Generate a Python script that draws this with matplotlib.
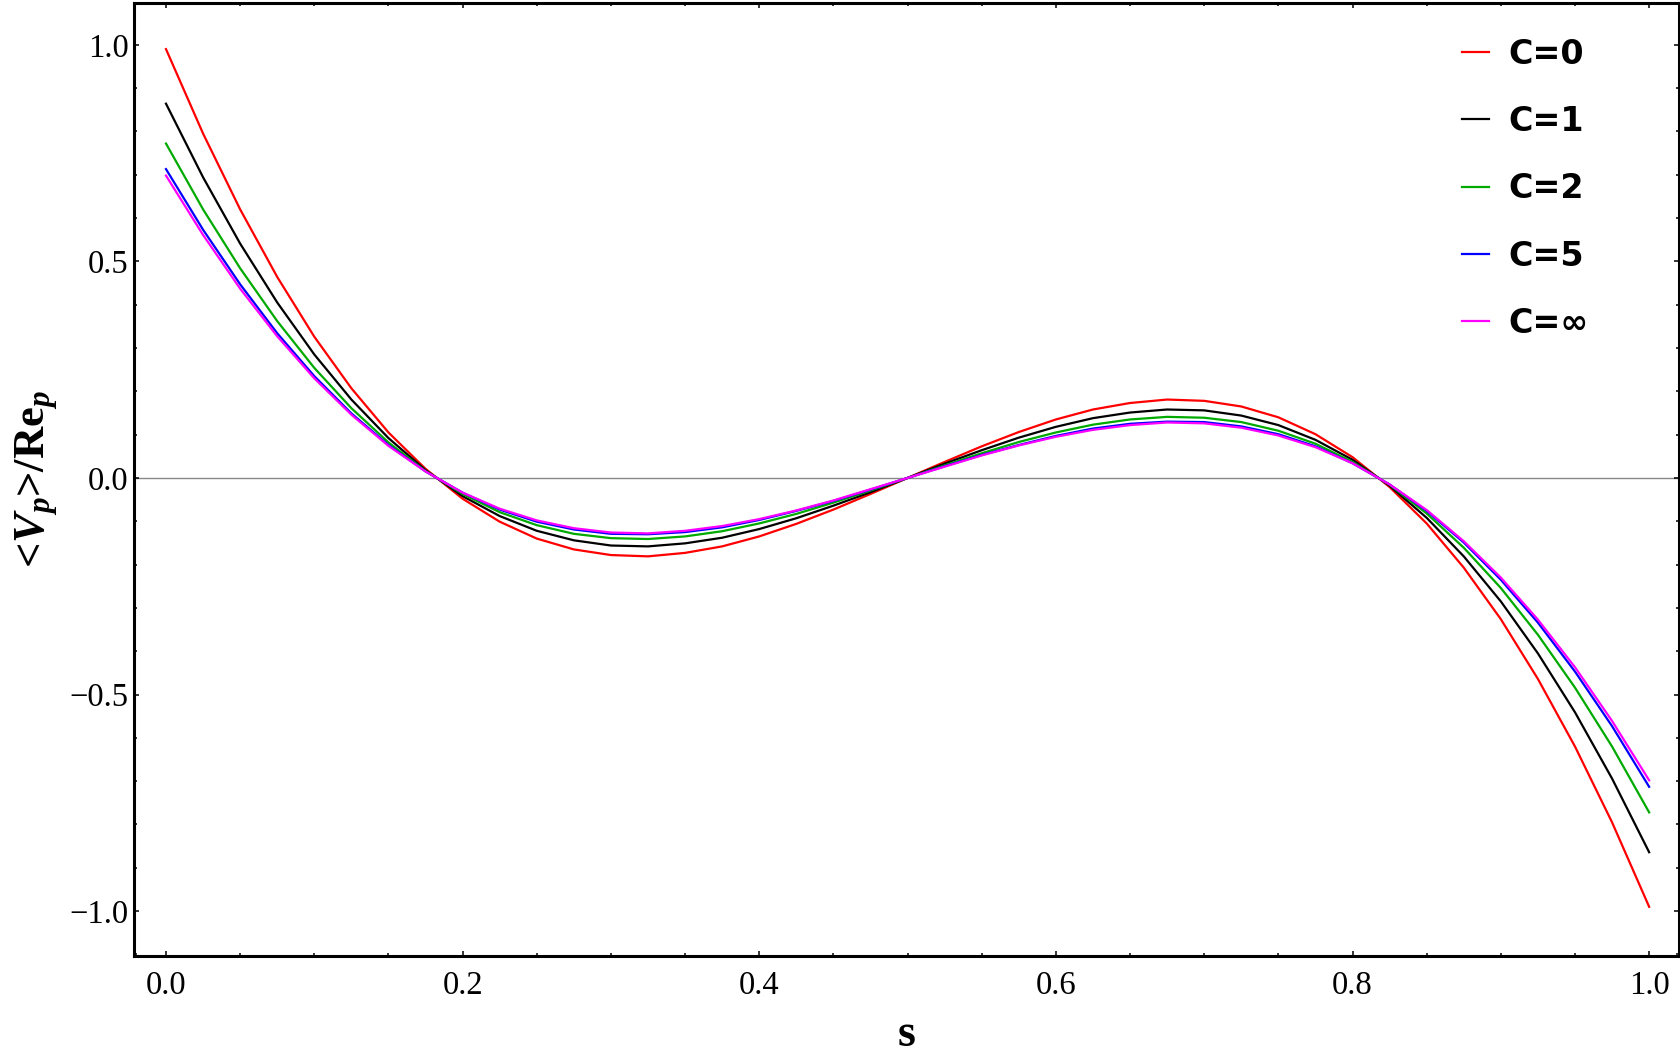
import matplotlib
matplotlib.use("Agg")
import matplotlib.pyplot as plt
from matplotlib.ticker import MultipleLocator, FixedLocator, FixedFormatter

# values, s = 0 .. 1 in steps of 0.025
s = [0.000, 0.025, 0.050, 0.075, 0.100, 0.125, 0.150, 0.175, 0.200, 0.225,
     0.250, 0.275, 0.300, 0.325, 0.350, 0.375, 0.400, 0.425, 0.450, 0.475,
     0.500, 0.525, 0.550, 0.575, 0.600, 0.625, 0.650, 0.675, 0.700, 0.725,
     0.750, 0.775, 0.800, 0.825, 0.850, 0.875, 0.900, 0.925, 0.950, 0.975,
     1.000]

v_c0 = [0.990, 0.795, 0.620, 0.464, 0.326, 0.207, 0.105, 0.021, -0.048, -0.101,
        -0.140, -0.165, -0.178, -0.181, -0.173, -0.158, -0.135, -0.106, -0.073, -0.037,
        0.000, 0.037, 0.073, 0.106, 0.135, 0.158, 0.173, 0.181, 0.178, 0.165,
        0.140, 0.101, 0.048, -0.021, -0.105, -0.207, -0.326, -0.464, -0.620, -0.795,
        -0.990]

v_c1 = [0.864, 0.694, 0.541, 0.405, 0.285, 0.181, 0.092, 0.018, -0.042, -0.088,
        -0.122, -0.144, -0.156, -0.158, -0.151, -0.138, -0.118, -0.093, -0.064, -0.033,
        0.000, 0.033, 0.064, 0.093, 0.118, 0.138, 0.151, 0.158, 0.156, 0.144,
        0.122, 0.088, 0.042, -0.018, -0.092, -0.181, -0.285, -0.405, -0.541, -0.694,
        -0.864]

v_c2 = [0.772, 0.620, 0.484, 0.362, 0.254, 0.161, 0.082, 0.016, -0.037, -0.079,
        -0.109, -0.129, -0.139, -0.141, -0.135, -0.123, -0.105, -0.083, -0.057, -0.029,
        0.000, 0.029, 0.057, 0.083, 0.105, 0.123, 0.135, 0.141, 0.139, 0.129,
        0.109, 0.079, 0.037, -0.016, -0.082, -0.161, -0.254, -0.362, -0.484, -0.620,
        -0.772]

v_c5 = [0.713, 0.573, 0.447, 0.334, 0.235, 0.149, 0.076, 0.015, -0.034, -0.073,
        -0.101, -0.119, -0.129, -0.130, -0.125, -0.114, -0.097, -0.076, -0.053, -0.027,
        0.000, 0.027, 0.053, 0.076, 0.097, 0.114, 0.125, 0.130, 0.129, 0.119,
        0.101, 0.073, 0.034, -0.015, -0.076, -0.149, -0.235, -0.334, -0.447, -0.573,
        -0.713]

v_cinf = [0.698, 0.561, 0.437, 0.327, 0.230, 0.146, 0.074, 0.015, -0.034, -0.071,
          -0.098, -0.116, -0.126, -0.128, -0.122, -0.111, -0.095, -0.075, -0.052, -0.026,
          0.000, 0.026, 0.052, 0.075, 0.095, 0.111, 0.122, 0.128, 0.126, 0.116,
          0.098, 0.071, 0.034, -0.015, -0.074, -0.146, -0.230, -0.327, -0.437, -0.561,
          -0.698]

labels = ["C=0", "C=1", "C=2", "C=5", "C=\u221e"]
colors = ["#ff0000", "#000000", "#00aa00", "#0000ff", "#ff00ff"]

x_ticks = [0.0, 0.2, 0.4, 0.6, 0.8, 1.0]
x_tick_labels = ["0.0", "0.2", "0.4", "0.6", "0.8", "1.0"]
y_ticks = [-1.0, -0.5, 0.0, 0.5, 1.0]
y_tick_labels = ["\u22121.0", "\u22120.5", "0.0", "0.5", "1.0"]

plt.rcParams["mathtext.fontset"] = "custom"
plt.rcParams["mathtext.rm"] = "Liberation Serif:bold"
plt.rcParams["mathtext.it"] = "Liberation Serif:italic:bold"
plt.rcParams["mathtext.bf"] = "Liberation Serif:bold"

fig = plt.figure(figsize=(16.8, 10.57), dpi=100)
ax = fig.add_axes([0.08, 0.0958, 0.9192, 0.9016])

ax.axhline(0, color="#888888", lw=1.0, zorder=1)

series = [v_c0, v_c1, v_c2, v_c5, v_cinf]
for vals, lab, col in zip(series, labels, colors):
    ax.plot(s, vals, color=col, lw=1.6, label=lab, zorder=2)

ax.set_xlim(-0.0213, 1.0199)
ax.set_ylim(-1.103, 1.097)

ax.xaxis.set_major_locator(FixedLocator(x_ticks))
ax.xaxis.set_major_formatter(FixedFormatter(x_tick_labels))
ax.xaxis.set_minor_locator(MultipleLocator(0.05))
ax.yaxis.set_major_locator(FixedLocator(y_ticks))
ax.yaxis.set_major_formatter(FixedFormatter(y_tick_labels))
ax.yaxis.set_minor_locator(MultipleLocator(0.1))

ax.tick_params(which="both", direction="in", top=True, right=True, width=1.1)
ax.tick_params(which="major", length=3.8)
ax.tick_params(which="minor", length=2.0)
ax.tick_params(axis="x", pad=10.5)
ax.tick_params(axis="y", pad=4)
for lab in ax.get_xticklabels() + ax.get_yticklabels():
    lab.set_family("Liberation Serif")
    lab.set_fontsize(23.5)

for sp in ax.spines.values():
    sp.set_linewidth(2.2)

ax.set_xlabel("s", family="Liberation Serif", fontweight="bold", fontsize=33)
ax.xaxis.set_label_coords(0.5, -0.061)
ax.set_ylabel(r"<$V_p$>/Re$_p$", family="Liberation Serif", fontweight="bold", fontsize=32)
ax.yaxis.set_label_coords(-0.048, 0.50)

leg = ax.legend(loc="upper left", bbox_to_anchor=(0.8597, 0.9635), frameon=False,
                handlelength=0.8, handletextpad=0.6, labelspacing=1.03,
                borderpad=0, borderaxespad=0,
                prop={"family": "DejaVu Sans", "weight": "bold", "size": 24})
for line in leg.get_lines():
    line.set_linewidth(1.6)

fig.savefig("out.png", dpi=100)
